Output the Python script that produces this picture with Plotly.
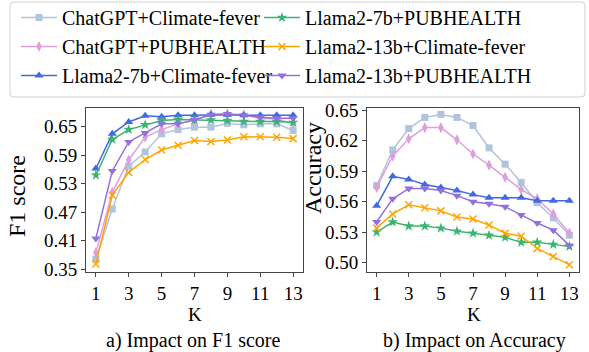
import plotly.graph_objects as go

K = list(range(1, 14))
series_names = ["ChatGPT+Climate-fever", "ChatGPT+PUBHEALTH", "Llama2-7b+Climate-fever",
                "Llama2-7b+PUBHEALTH", "Llama2-13b+Climate-fever", "Llama2-13b+PUBHEALTH"]

f1_chatgpt_cf = [0.371, 0.477, 0.567, 0.597, 0.635, 0.644, 0.649, 0.649, 0.657, 0.654, 0.656, 0.656, 0.642]
f1_chatgpt_ph = [0.385, 0.512, 0.580, 0.628, 0.644, 0.656, 0.664, 0.677, 0.677, 0.675, 0.668, 0.666, 0.657]
f1_l7_cf = [0.562, 0.635, 0.660, 0.673, 0.671, 0.674, 0.674, 0.675, 0.675, 0.674, 0.674, 0.674, 0.674]
f1_l7_ph = [0.548, 0.623, 0.644, 0.654, 0.663, 0.665, 0.664, 0.664, 0.663, 0.661, 0.661, 0.661, 0.659]
f1_l13_cf = [0.361, 0.506, 0.554, 0.581, 0.601, 0.611, 0.621, 0.619, 0.622, 0.629, 0.629, 0.628, 0.625]
f1_l13_ph = [0.415, 0.557, 0.618, 0.637, 0.656, 0.656, 0.664, 0.675, 0.677, 0.674, 0.670, 0.668, 0.668]

acc_chatgpt_cf = [0.576, 0.611, 0.632, 0.643, 0.646, 0.643, 0.635, 0.613, 0.597, 0.579, 0.559, 0.544, 0.527]
acc_chatgpt_ph = [0.574, 0.605, 0.622, 0.633, 0.633, 0.621, 0.607, 0.596, 0.584, 0.572, 0.563, 0.548, 0.529]
acc_l7_cf = [0.556, 0.585, 0.582, 0.577, 0.574, 0.571, 0.567, 0.564, 0.564, 0.564, 0.561, 0.561, 0.561]
acc_l7_ph = [0.530, 0.540, 0.536, 0.536, 0.534, 0.531, 0.529, 0.527, 0.525, 0.520, 0.520, 0.518, 0.516]
acc_l13_cf = [0.534, 0.548, 0.557, 0.554, 0.551, 0.545, 0.543, 0.537, 0.529, 0.526, 0.514, 0.506, 0.498]
acc_l13_ph = [0.540, 0.563, 0.573, 0.573, 0.571, 0.566, 0.560, 0.558, 0.555, 0.547, 0.539, 0.532, 0.517]

f1_ticks = [0.35, 0.41, 0.47, 0.53, 0.59, 0.65]
acc_ticks = [0.50, 0.53, 0.56, 0.59, 0.62, 0.65]
k_ticks = [1, 3, 5, 7, 9, 11, 13]

f1_data = [f1_chatgpt_cf, f1_chatgpt_ph, f1_l7_cf, f1_l7_ph, f1_l13_cf, f1_l13_ph]
acc_data = [acc_chatgpt_cf, acc_chatgpt_ph, acc_l7_cf, acc_l7_ph, acc_l13_cf, acc_l13_ph]

colors = ["#b0c4de", "#dda0dd", "#4169e1", "#3cb371", "#ffa500", "#9370db"]
symbols = ["square", "diamond-tall", "triangle-up", "star", "x-thin-open", "triangle-down"]
sizes = [7, 8, 8, 8, 7, 8]
legend_ids = ["legend", "legend", "legend", "legend2", "legend2", "legend2"]

FONT = "'Liberation Serif', 'Times New Roman', Times, serif"
W, H = 589, 352

fig = go.Figure()
for i, name in enumerate(series_names):
    for xa, ya, data, show in [("x", "y", f1_data[i], True), ("x2", "y2", acc_data[i], False)]:
        fig.add_trace(go.Scatter(
            x=K, y=data, xaxis=xa, yaxis=ya, name=name, mode="lines+markers",
            line=dict(color=colors[i], width=1.5),
            marker=dict(symbol=symbols[i], size=sizes[i], color=colors[i],
                        line=dict(color=colors[i], width=1.5 if symbols[i].startswith("x") else 0)),
            showlegend=show, legend=legend_ids[i], legendgroup=name))

ax_common = dict(showgrid=False, zeroline=False, showline=True, mirror=True,
                 linecolor="#444", linewidth=1, ticks="outside", ticklen=4,
                 tickcolor="#444", tickfont=dict(family=FONT, size=19, color="black"))

leg_common = dict(orientation="v", yanchor="top", xanchor="left", tracegroupgap=0,
                  bgcolor="rgba(0,0,0,0)", borderwidth=0, itemwidth=36,
                  font=dict(family=FONT, size=20, color="black"))

fig.update_layout(
    width=W, height=H, margin=dict(l=0, r=0, t=0, b=0, autoexpand=False),
    paper_bgcolor="white", plot_bgcolor="white",
    font=dict(family=FONT, color="black"),
    xaxis=dict(domain=[86 / W, 303 / W], range=[0.4, 13.6], tickvals=k_ticks, anchor="y", **ax_common),
    yaxis=dict(domain=[1 - 272 / H, 1 - 108 / H], range=[0.3443, 0.6894], tickvals=f1_ticks,
               tickformat=".2f", anchor="x", **ax_common),
    xaxis2=dict(domain=[367 / W, 579 / W], range=[0.4, 13.6], tickvals=k_ticks, anchor="y2", **ax_common),
    yaxis2=dict(domain=[1 - 272 / H, 1 - 108 / H], range=[0.4908, 0.6523], tickvals=acc_ticks,
                tickformat=".2f", anchor="x2", **ax_common),
    legend=dict(x=16 / W, y=1 + 2 / H, **leg_common),
    legend2=dict(x=259 / W, y=1 + 2 / H, **leg_common),
)

# rounded legend frame
x0, x1, y0, y1 = 10 / W, 585 / W, 1 - 97 / H, 1 - 2 / H
rx, ry = 4 / W, 4 / H
path = (f"M {x0+rx},{y1} L {x1-rx},{y1} Q {x1},{y1} {x1},{y1-ry} L {x1},{y0+ry} "
        f"Q {x1},{y0} {x1-rx},{y0} L {x0+rx},{y0} Q {x0},{y0} {x0},{y0+ry} "
        f"L {x0},{y1-ry} Q {x0},{y1} {x0+rx},{y1} Z")
fig.add_shape(type="path", path=path, xref="paper", yref="paper",
              line=dict(color="#d0d0d0", width=1), fillcolor="rgba(255,255,255,0.8)", layer="below")

def ann(text, x, y, size, angle=0):
    fig.add_annotation(text=text, x=x / W, y=1 - y / H, xref="paper", yref="paper",
                       showarrow=False, textangle=angle, xanchor="center", yanchor="middle",
                       font=dict(family=FONT, size=size, color="black"))

ann("F1 score", 17, 196, 24, -90)
ann("Accuracy", 313, 168, 24, -90)
ann("K", 195, 314, 19)
ann("K", 474, 314, 19)
ann("a) Impact on F1 score", 193, 340, 20)
ann("b) Impact on Accuracy", 475, 340, 20)

fig.write_html("out.html", config={"displayModeBar": False},
               post_script="document.body.style.margin='0px';")
